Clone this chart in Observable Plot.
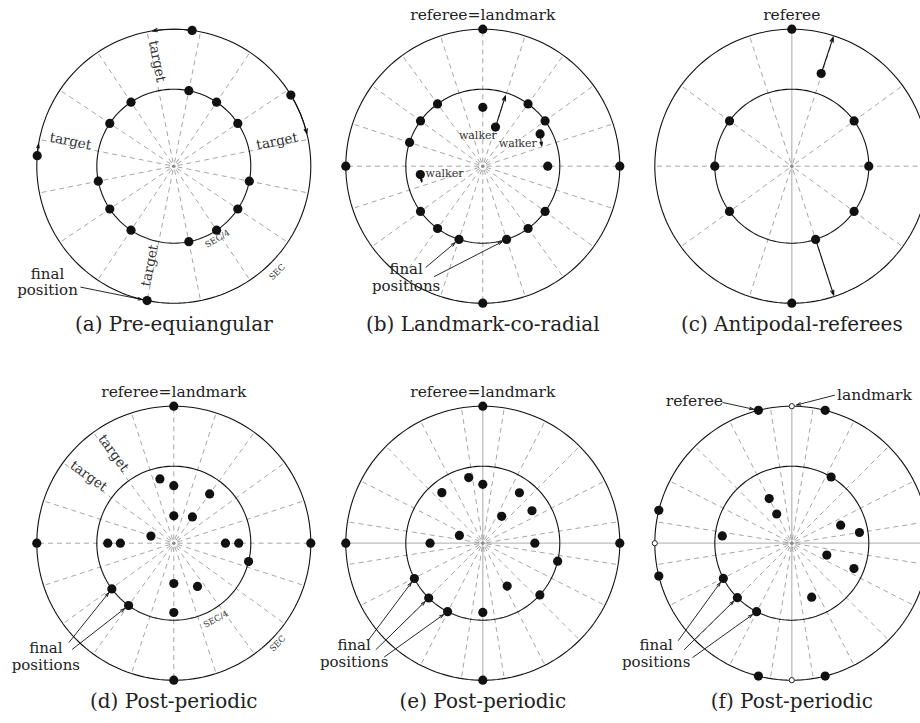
<!DOCTYPE html>
<html><head><meta charset="utf-8">
<script src="https://cdn.jsdelivr.net/npm/d3@7"></script>
<script src="https://cdn.jsdelivr.net/npm/@observablehq/plot@0.6"></script>
<style>body{margin:0;background:#fff}#chart svg{display:block}</style>
</head><body><div id="chart"></div>
<script>
// ---------- data (angles in degrees clockwise from top, radii in units of the SEC = outer circle) ----------
const R_IN = 0.562;                        // inner circle (SEC/4 circle)
const panels   = ["a","b","c","d","e","f"];
const captions = ["(a) Pre-equiangular","(b) Landmark-co-radial","(c) Antipodal-referees","(d) Post-periodic","(e) Post-periodic","(f) Post-periodic"];
const panelCol = [0,1,2,0,1,2];
const panelRow = [0,0,0,1,1,1];
const rayStart = [11.25, 0, 18, 0, 9, 9];   // dashed radial guide lines
const rayStep  = [22.5, 18, 36, 18, 18, 18];
const greyAxes = {c:[0], e:[0,90], f:[0,90]};

// robots on the outer circle
const outerA = [7.7, 58.7, 274.4, 191.25];
const outerB = [0, 90, 180, 270];
const outerC = [0, 180];
const outerD = [0, 90, 180, 270];
const outerE = [0, 90, 180, 270];
const outerF = [345.9, 14.1, 76.1, 103.9, 165.9, 194.1, 256.1, 283.9];
// robots on the inner circle
const innerA = [11.25, 33.75, 56.25, 101.25, 123.75, 146.25, 168.75, 213.75, 236.25, 258.75, 303.75, 326.25];
const innerB = [36, 54, 126, 144, 162, 198, 216, 234, 288, 306, 324];
const innerC = [54, 90, 126, 162, 234, 270, 306];
const innerD = [103.8, 216, 233.6];
const innerE = [103.5, 132.2, 207.2, 224.6, 242.7];
const innerF = [30.7, 207.2, 225, 242.8];
// robots strictly inside [angle, radius]
const interiorB = [[0,0.43],[18,0.30],[60.6,0.48],[90,0.474],[262.4,0.46]];
const interiorC = [[17.6,0.71]];
const interiorD = [[347.8,0.48],[0,0.42],[36,0.445],[0,0.20],[35.3,0.235],[287.4,0.175],[270,0.482],[270,0.39],[90,0.377],[90,0.474],[180,0.294],[151.3,0.36],[180,0.506]];
const interiorE = [[347.9,0.49],[0,0.43],[321,0.475],[36,0.455],[35.1,0.24],[56.6,0.43],[288.4,0.18],[270,0.385],[90,0.38],[150.4,0.36],[180,0.505]];
const interiorF = [[333.1,0.365],[332.7,0.24],[69.7,0.38],[81,0.50],[276,0.51],[108.8,0.27],[112.2,0.49],[159.8,0.42]];
// landmark positions (hollow) in (f)
const hollowF = [0, 90, 180, 270];

// moves along the SEC in (a): [from, to]
const arcMovesA = [[7.7,-9],[58.7,76.3],[274.4,279.3]];
// straight moves: [panel, fromAngle, fromR, toAngle, toR]
const moves = [["b",18,0.30,17.8,0.54],["b",60.6,0.48,71,0.455],["b",262.4,0.46,255.3,0.46],
               ["c",17.6,0.71,17.8,0.99],["c",162,R_IN,162,0.99]];

// labels
const topLabels = [["b","referee=landmark"],["c","referee"],["d","referee=landmark"],["e","referee=landmark"]];
const targetLabels = [["a",348.75,0.775],["a",78.75,0.775],["a",191.25,0.745],["a",281.25,0.775],["d",324,0.79],["d",306,0.79]];
const secLabels = [["a","SEC/4",149,0.618],["a","SEC",135.7,1.08],["d","SEC/4",151,0.634],["d","SEC",134,1.054]];
const walkerLabels = [["b",-0.036,0.224],["b",0.255,0.163],["b",-0.28,-0.055]];
const finalLabels = [["a",-0.922,-0.842,"final\nposition"],["b",-0.56,-0.812,"final\npositions"],
  ["d",-0.934,-0.823,"final\npositions"],["e",-0.939,-0.803,"final\npositions"],["f",-0.99,-0.803,"final\npositions"]];
const nameLabels = [["f",-0.711,1.039,"referee"],["f",0.603,1.080,"landmark"]];
// pointer arrows: [panel, startX, startY, targetAngle, targetR]
const pointers = [["a",-0.679,-0.883,191.25,1],
  ["b",-0.414,-0.737,198,R_IN],["b",-0.353,-0.805,162,R_IN],
  ["d",-0.764,-0.723,233.6,R_IN],["d",-0.740,-0.774,216,R_IN],
  ["e",-0.839,-0.713,242.7,R_IN],["e",-0.779,-0.776,224.6,R_IN],["e",-0.718,-0.830,207.2,R_IN],
  ["f",-0.828,-0.710,242.8,R_IN],["f",-0.784,-0.776,225,R_IN],["f",-0.723,-0.834,207.2,R_IN],
  ["f",-0.504,1.027,345.9,1],["f",0.311,1.080,0,1]];

// ---------- layout helpers ----------
const SX = 309/137, SY = 377/137;   // spacing between panel centres, in SEC radii
const idx = p => panels.indexOf(p);
const X = (p, lx) => panelCol[idx(p)]*SX + lx;
const Y = (p, ly) => -panelRow[idx(p)]*SY + ly;
const rad = a => a*Math.PI/180;
const px = (p,a,r) => X(p, r*Math.sin(rad(a)));
const py = (p,a,r) => Y(p, r*Math.cos(rad(a)));

const circles = [];
panels.forEach(p => [1, R_IN].forEach(r => {
  for (let a = 0; a <= 360; a += 2) circles.push({key:p+r, x:px(p,a,r), y:py(p,a,r)});
}));
const rays = [];
panels.forEach((p,i) => { for (let a = rayStart[i]; a < 360 - 1e-6; a += rayStep[i]) rays.push({x1:px(p,a,0.028),y1:py(p,a,0.028),x2:px(p,a,1),y2:py(p,a,1)}); });
const axesData = [];
Object.entries(greyAxes).forEach(([p,list]) => list.forEach(a => axesData.push({x1:px(p,a,1),y1:py(p,a,1),x2:px(p,a+180,1),y2:py(p,a+180,1)})));

const robots = [];
const addOn = (p, list, r) => list.forEach(a => robots.push({x:px(p,a,r), y:py(p,a,r)}));
addOn("a",outerA,1); addOn("b",outerB,1); addOn("c",outerC,1); addOn("d",outerD,1); addOn("e",outerE,1); addOn("f",outerF,1);
addOn("a",innerA,R_IN); addOn("b",innerB,R_IN); addOn("c",innerC,R_IN); addOn("d",innerD,R_IN); addOn("e",innerE,R_IN); addOn("f",innerF,R_IN);
[["b",interiorB],["c",interiorC],["d",interiorD],["e",interiorE],["f",interiorF]].forEach(([p,l]) => l.forEach(([a,r]) => robots.push({x:px(p,a,r), y:py(p,a,r)})));
const hollow = hollowF.map(a => ({x:px("f",a,1), y:py("f",a,1)}));
const centers = panels.map(p => ({x:X(p,0), y:Y(p,0)}));

const FONT = "DejaVu Serif";
const tRot = a => (Math.sin(rad(a)) >= 0 ? a - 90 : a + 90);
const arrowStyle = {stroke:"#111", strokeWidth:1.1, headLength:7, headAngle:36};

const chart = Plot.plot({
  width: 920, height: 723, margin: 0,
  x: {domain: [-173.3/137, (920-173.3)/137], axis: null},
  y: {domain: [(165.7-723)/137, 165.7/137], axis: null},
  marks: [
    Plot.link(axesData, {x1:"x1", y1:"y1", x2:"x2", y2:"y2", stroke:"#bdbdbd", strokeWidth:1.3}),
    Plot.link(rays, {x1:"x1", y1:"y1", x2:"x2", y2:"y2", stroke:"#9c9c9c", strokeWidth:0.9, strokeDasharray:"5,4"}),
    Plot.line(circles, {x:"x", y:"y", z:"key", stroke:"#111", strokeWidth:1.1, curve:"linear"}),
    Plot.dot(centers, {x:"x", y:"y", r:1.8, fill:"#8a8a8a"}),
    ...arcMovesA.map(([f,t]) => Plot.arrow([0], {x1:px("a",f,1), y1:py("a",f,1), x2:px("a",t,1), y2:py("a",t,1), bend:(t-f)/2, ...arrowStyle})),
    Plot.arrow(moves, {x1:d=>px(d[0],d[1],d[2]), y1:d=>py(d[0],d[1],d[2]), x2:d=>px(d[0],d[3],d[4]), y2:d=>py(d[0],d[3],d[4]), ...arrowStyle}),
    Plot.arrow(pointers, {x1:d=>X(d[0],d[1]), y1:d=>Y(d[0],d[2]), x2:d=>px(d[0],d[3],d[4]), y2:d=>py(d[0],d[3],d[4]), insetEnd:5, ...arrowStyle, strokeWidth:0.9}),
    Plot.dot(robots, {x:"x", y:"y", r:4.6, fill:"#111"}),
    Plot.dot(hollow, {x:"x", y:"y", r:2.6, fill:"white", stroke:"#222", strokeWidth:1}),
    Plot.text(captions, {x:(d,i)=>X(panels[i],0), y:(d,i)=>Y(panels[i],-1.155), text:d=>d, fontFamily:FONT, fontSize:20, fill:"#222"}),
    Plot.text(topLabels, {x:d=>X(d[0],0), y:d=>Y(d[0],1.105), text:d=>d[1], fontFamily:FONT, fontSize:15.5, fill:"#222"}),
    Plot.text(targetLabels, {x:d=>px(d[0],d[1],d[2]), y:d=>py(d[0],d[1],d[2]), rotate:d=>tRot(d[1]), text:()=>"target", lineAnchor:"bottom", fontFamily:FONT, fontSize:13.5, fill:"#333"}),
    Plot.text(secLabels, {x:d=>px(d[0],d[2],d[3]), y:d=>py(d[0],d[2],d[3]), rotate:d=>d[2]-180, text:d=>d[1], fontFamily:FONT, fontSize:8.5, fill:"#333"}),
    Plot.text(walkerLabels, {x:d=>X(d[0],d[1]), y:d=>Y(d[0],d[2]), text:()=>"walker", fontFamily:FONT, fontSize:11, fill:"#333"}),
    Plot.text(finalLabels, {x:d=>X(d[0],d[1]), y:d=>Y(d[0],d[2]), text:d=>d[3], lineHeight:1.12, fontFamily:FONT, fontSize:15, fill:"#222"}),
    Plot.text(nameLabels, {x:d=>X(d[0],d[1]), y:d=>Y(d[0],d[2]), text:d=>d[3], fontFamily:FONT, fontSize:15.5, fill:"#222"})
  ]
});
document.getElementById("chart").appendChild(chart);
</script>
</body></html>
